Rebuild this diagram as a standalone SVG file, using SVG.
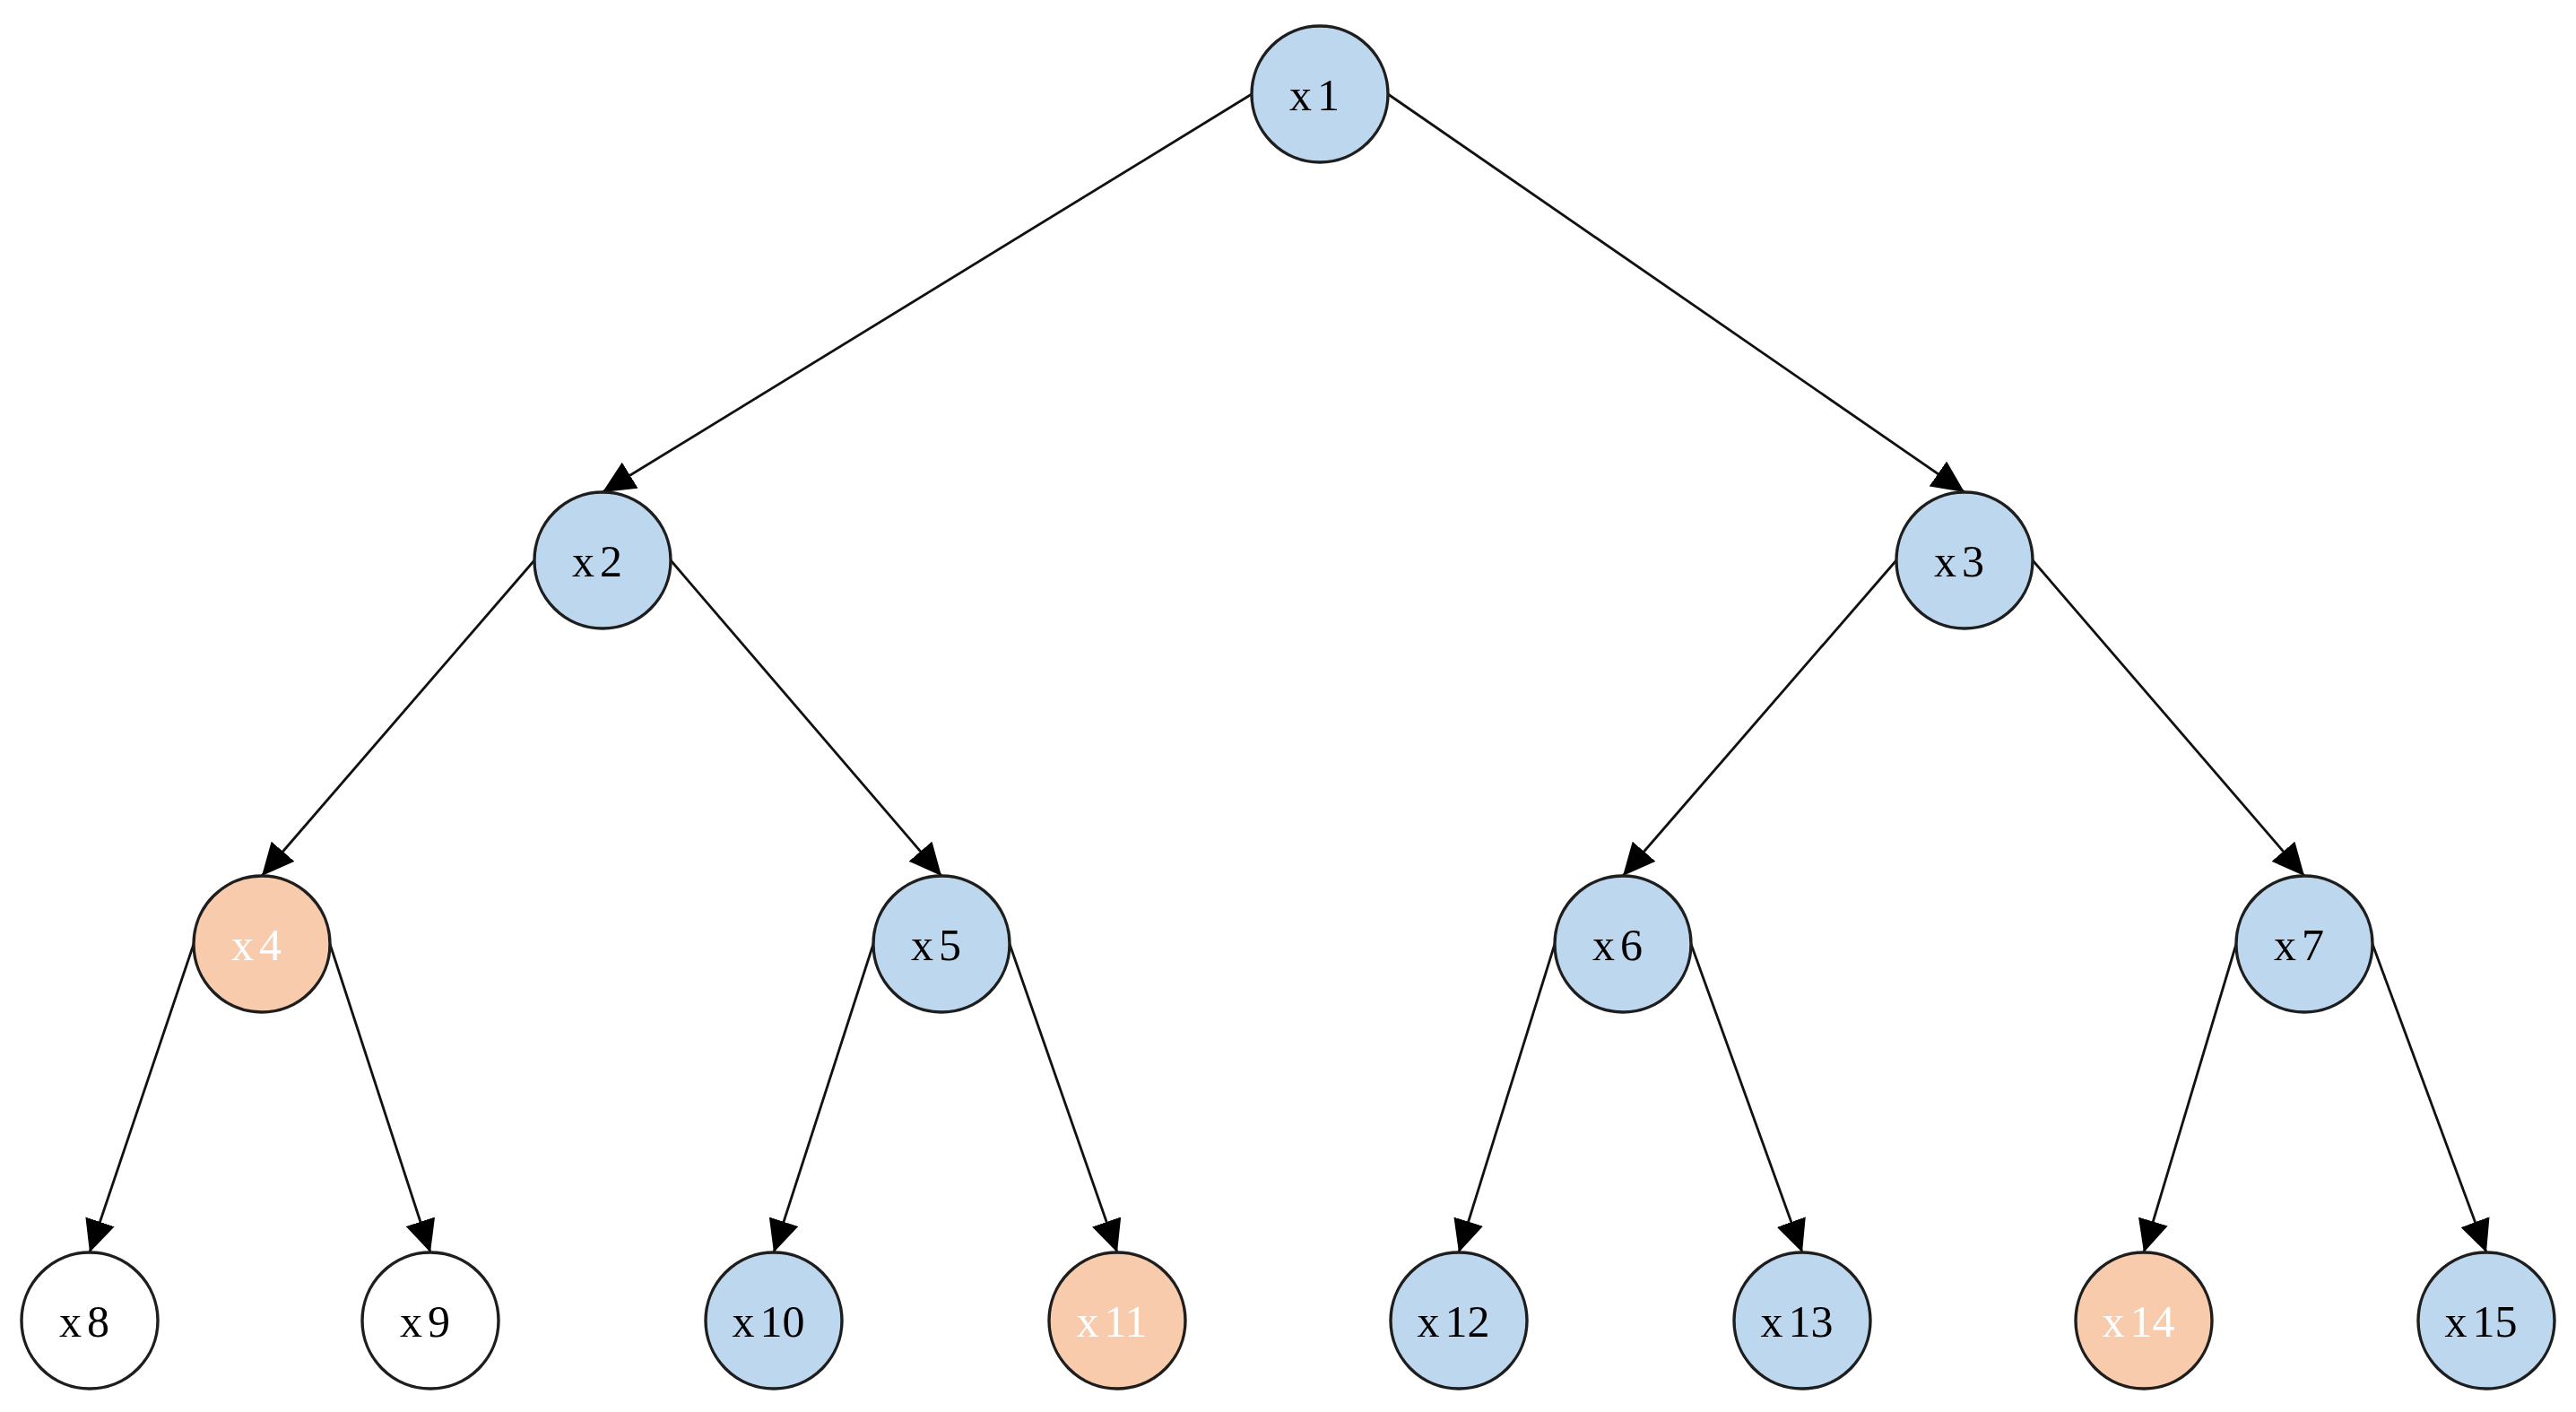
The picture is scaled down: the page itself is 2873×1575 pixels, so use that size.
<svg xmlns="http://www.w3.org/2000/svg" width="2873" height="1575" viewBox="0 0 2873 1575">
<style>
.edge{stroke:#111;stroke-width:2.8;fill:none;marker-end:url(#arr)}
.node circle{stroke:#1e1e1e;stroke-width:3.4}
.blue circle{fill:#BDD7EE}
.orange circle{fill:#F8CBAD}
.white circle{fill:#FFFFFF}
.node text{font-family:"Liberation Serif","Times New Roman",serif;font-size:50px;text-anchor:middle;fill:#000}
.orange text{fill:#FFFFFF}
</style>
<defs>
<marker id="arr" markerUnits="userSpaceOnUse" markerWidth="36" markerHeight="34" refX="36" refY="17" orient="auto">
<path d="M0,0 L36,17 L0,34 Z" fill="#000"/>
</marker>
</defs>
<rect width="2873" height="1575" fill="#fff"/>
<g id="connectors">
<line class="edge" x1="1396" y1="105" x2="672" y2="549"/>
<line class="edge" x1="1548" y1="105" x2="2191" y2="549"/>
<line class="edge" x1="596" y1="625" x2="292" y2="977"/>
<line class="edge" x1="748" y1="625" x2="1050" y2="977"/>
<line class="edge" x1="2115" y1="625" x2="1810" y2="977"/>
<line class="edge" x1="2267" y1="625" x2="2570" y2="977"/>
<line class="edge" x1="216" y1="1053" x2="100" y2="1397"/>
<line class="edge" x1="368" y1="1053" x2="480" y2="1397"/>
<line class="edge" x1="974" y1="1053" x2="863" y2="1397"/>
<line class="edge" x1="1126" y1="1053" x2="1246" y2="1397"/>
<line class="edge" x1="1734" y1="1053" x2="1627" y2="1397"/>
<line class="edge" x1="1886" y1="1053" x2="2010" y2="1397"/>
<line class="edge" x1="2494" y1="1053" x2="2391" y2="1397"/>
<line class="edge" x1="2646" y1="1053" x2="2773" y2="1397"/>
</g>
<g id="x1" class="node blue"><circle cx="1472" cy="105" r="76"/><text x="1466" y="123">x<tspan dx="6">1</tspan></text></g>
<g id="x2" class="node blue"><circle cx="672" cy="625" r="76"/><text x="666" y="643">x<tspan dx="6">2</tspan></text></g>
<g id="x3" class="node blue"><circle cx="2191" cy="625" r="76"/><text x="2185" y="643">x<tspan dx="6">3</tspan></text></g>
<g id="x4" class="node orange"><circle cx="292" cy="1053" r="76"/><text x="286" y="1071">x<tspan dx="6">4</tspan></text></g>
<g id="x5" class="node blue"><circle cx="1050" cy="1053" r="76"/><text x="1044" y="1071">x<tspan dx="6">5</tspan></text></g>
<g id="x6" class="node blue"><circle cx="1810" cy="1053" r="76"/><text x="1804" y="1071">x<tspan dx="6">6</tspan></text></g>
<g id="x7" class="node blue"><circle cx="2570" cy="1053" r="76"/><text x="2564" y="1071">x<tspan dx="6">7</tspan></text></g>
<g id="x8" class="node white"><circle cx="100" cy="1473" r="76"/><text x="94" y="1491">x<tspan dx="6">8</tspan></text></g>
<g id="x9" class="node white"><circle cx="480" cy="1473" r="76"/><text x="474" y="1491">x<tspan dx="6">9</tspan></text></g>
<g id="x10" class="node blue"><circle cx="863" cy="1473" r="76"/><text x="857" y="1491">x<tspan dx="6">10</tspan></text></g>
<g id="x11" class="node orange"><circle cx="1246" cy="1473" r="76"/><text x="1240" y="1491">x<tspan dx="6">11</tspan></text></g>
<g id="x12" class="node blue"><circle cx="1627" cy="1473" r="76"/><text x="1621" y="1491">x<tspan dx="6">12</tspan></text></g>
<g id="x13" class="node blue"><circle cx="2010" cy="1473" r="76"/><text x="2004" y="1491">x<tspan dx="6">13</tspan></text></g>
<g id="x14" class="node orange"><circle cx="2391" cy="1473" r="76"/><text x="2385" y="1491">x<tspan dx="6">14</tspan></text></g>
<g id="x15" class="node blue"><circle cx="2773" cy="1473" r="76"/><text x="2767" y="1491">x<tspan dx="6">15</tspan></text></g>
</svg>
